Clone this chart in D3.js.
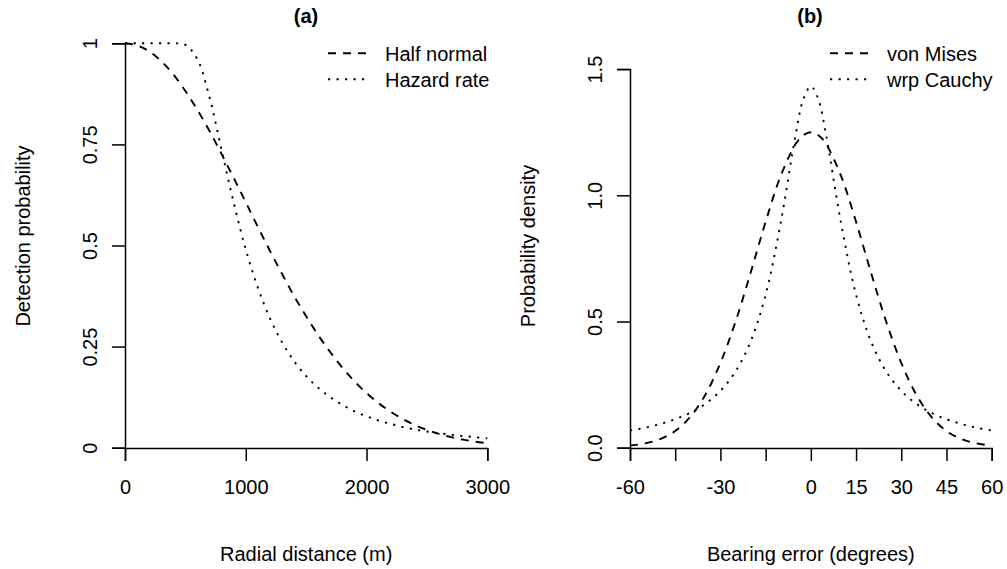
<!DOCTYPE html>
<html lang="en">
<head>
<meta charset="utf-8">
<title>Detection and bearing error curves</title>
<script src="https://cdn.jsdelivr.net/npm/d3@7"></script>
<style>
  body { margin: 0; background: #fff; }
  svg { display: block; font-family: "Liberation Sans", Arial, sans-serif; }
  .axis path, .axis line { fill: none; stroke: #000; stroke-width: 1.5; }
  .axis text { font-size: 20px; fill: #000; }
  .lab { font-size: 20px; fill: #000; }
  .title { font-size: 20px; font-weight: bold; fill: #000; }
  .curve { fill: none; stroke: #000; stroke-width: 1.9; }
</style>
</head>
<body>
<div id="chart"></div>
<script>
// panel (a): detection functions
var radialDist = [0, 100, 200, 300, 400, 500, 600, 700, 800, 900, 1000,
  1100, 1200, 1300, 1400, 1500, 1600, 1700, 1800, 1900, 2000,
  2100, 2200, 2300, 2400, 2500, 2600, 2700, 2800, 2900, 3000];
var halfNormal = [1, 0.995, 0.980, 0.956, 0.923, 0.882, 0.835, 0.783, 0.726, 0.667, 0.607,
  0.546, 0.487, 0.430, 0.375, 0.325, 0.278, 0.236, 0.198, 0.164, 0.135,
  0.110, 0.089, 0.071, 0.056, 0.044, 0.034, 0.026, 0.020, 0.015, 0.011];
var hazardRate = [1, 1, 1, 1, 1, 0.996, 0.960, 0.866, 0.736, 0.606, 0.490,
  0.396, 0.320, 0.261, 0.214, 0.177, 0.148, 0.125, 0.106, 0.090, 0.078,
  0.067, 0.059, 0.051, 0.045, 0.040, 0.036, 0.032, 0.029, 0.026, 0.023];
var aXTicks = [0, 1000, 2000, 3000];
var aYTicks = [0, 0.25, 0.5, 0.75, 1];
var aYLabels = ["0", "0.25", "0.5", "0.75", "1"];

// panel (b): bearing error densities
var bearing = [-60, -55, -50, -45, -40, -35, -30, -25, -20, -15, -10, -5, -2.5, 0,
  2.5, 5, 10, 15, 20, 25, 30, 35, 40, 45, 50, 55, 60];
var vonMises = [0.008, 0.017, 0.034, 0.066, 0.122, 0.210, 0.336, 0.499, 0.692, 0.895, 1.077, 1.204, 1.238, 1.250,
  1.238, 1.204, 1.077, 0.895, 0.692, 0.499, 0.336, 0.210, 0.122, 0.066, 0.034, 0.017, 0.008];
var wrpCauchy = [0.068, 0.079, 0.094, 0.113, 0.138, 0.174, 0.225, 0.302, 0.420, 0.606, 0.891, 1.243, 1.380, 1.432,
  1.380, 1.243, 0.891, 0.606, 0.420, 0.302, 0.225, 0.174, 0.138, 0.113, 0.094, 0.079, 0.068];
var bXTicks = [-60, -45, -30, -15, 0, 15, 30, 45, 60];
var bXLabels = ["-60", "", "-30", "", "0", "15", "30", "45", "60"];
var bYTicks = [0, 0.5, 1, 1.5];
var bYLabels = ["0.0", "0.5", "1.0", "1.5"];

var DASH = "8,7", DOT = "2.2,6.3";

var svg = d3.select("#chart").append("svg")
  .attr("width", 1007)
  .attr("height", 569);

function panel(p) {
  var x = d3.scaleLinear().domain(p.xDomain).range(p.xRange);
  var y = d3.scaleLinear().domain(p.yDomain).range([447.7, p.yTop]);

  var xAxis = d3.axisBottom(x).tickValues(p.xTicks).tickSizeOuter(0).tickSize(13)
    .tickFormat(function(d, i) { return p.xLabels[i]; });
  var gx = svg.append("g").attr("class", "axis")
    .attr("transform", "translate(0,448)")
    .call(xAxis);
  gx.selectAll("text").attr("y", 46).attr("dy", 0);

  var yAxis = d3.axisLeft(y).tickValues(p.yTicks).tickSizeOuter(0).tickSize(13)
    .tickFormat(function(d, i) { return p.yLabels[i]; });
  var gy = svg.append("g").attr("class", "axis")
    .attr("transform", "translate(" + p.xRange[0] + ",0)")
    .call(yAxis);
  gy.selectAll("text")
    .attr("x", 0).attr("y", 0).attr("dy", 0)
    .attr("text-anchor", "middle")
    .attr("transform", "translate(-28,0) rotate(-90)");

  var line = d3.line()
    .x(function(d) { return x(d[0]); })
    .y(function(d) { return y(d[1]); })
    .curve(d3.curveCatmullRom);

  p.series.forEach(function(s) {
    svg.append("path")
      .datum(p.xs.map(function(v, i) { return [v, s.values[i]]; }))
      .attr("class", "curve")
      .attr("stroke-dasharray", s.dash)
      .attr("d", line);
  });

  var mid = (p.xRange[0] + p.xRange[1]) / 2;
  svg.append("text").attr("class", "title")
    .attr("x", p.titleX).attr("y", 22.5)
    .attr("text-anchor", "middle").text(p.title);

  svg.append("text").attr("class", "lab")
    .attr("x", mid).attr("y", 561)
    .attr("text-anchor", "middle").text(p.xTitle);

  svg.append("text").attr("class", "lab")
    .attr("text-anchor", "middle")
    .attr("transform", "translate(" + (p.xRange[0] - 95.5) + "," + p.yTitleMid + ") rotate(-90)")
    .text(p.yTitle);

  // legend
  p.series.forEach(function(s, i) {
    var ly = 53.3 + i * 26;
    svg.append("line")
      .attr("x1", p.legX).attr("x2", p.legX + 40)
      .attr("y1", ly).attr("y2", ly)
      .attr("stroke", "#000").attr("stroke-width", 1.9)
      .attr("stroke-dasharray", s.dash);
    svg.append("text").attr("class", "lab")
      .attr("x", p.legX + 57).attr("y", ly + 7.5)
      .text(s.name);
  });
}

panel({
  xDomain: [0, 3000], xRange: [125, 487.3],
  yDomain: [0, 1], yTop: 43.3, yTitleMid: 236,
  xTicks: aXTicks, xLabels: aXTicks.map(String),
  yTicks: aYTicks, yLabels: aYLabels,
  xs: radialDist,
  series: [
    {name: "Half normal", values: halfNormal, dash: DASH},
    {name: "Hazard rate", values: hazardRate, dash: DOT}
  ],
  title: "(a)", titleX: 306,
  xTitle: "Radial distance (m)", yTitle: "Detection probability",
  legX: 328
});

panel({
  xDomain: [-60, 60], xRange: [630, 991.7],
  yDomain: [0, 1.5], yTop: 69.1, yTitleMid: 246,
  xTicks: bXTicks, xLabels: bXLabels,
  yTicks: bYTicks, yLabels: bYLabels,
  xs: bearing,
  series: [
    {name: "von Mises", values: vonMises, dash: DASH},
    {name: "wrp Cauchy", values: wrpCauchy, dash: DOT}
  ],
  title: "(b)", titleX: 810,
  xTitle: "Bearing error (degrees)", yTitle: "Probability density",
  legX: 830
});
</script>
</body>
</html>
